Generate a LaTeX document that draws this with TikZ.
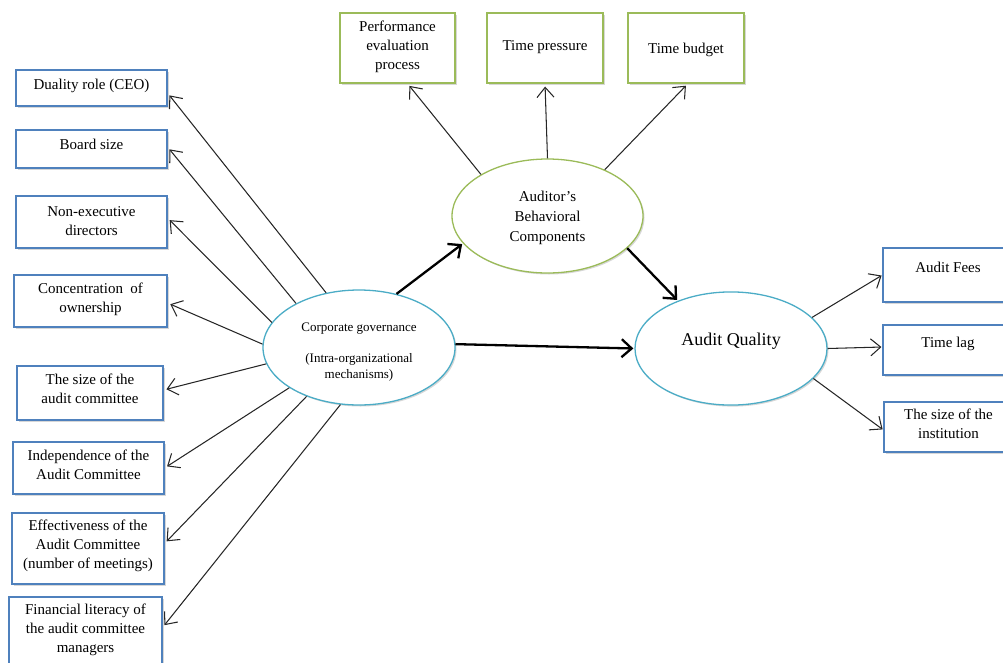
\documentclass[tikz,border=0pt]{standalone}
\usepackage{fontspec}
\setmainfont{Liberation Serif}
\usetikzlibrary{arrows.meta,shapes.geometric,shadows}
\definecolor{boxblue}{RGB}{79,129,189}
\definecolor{boxgreen}{RGB}{155,187,89}
\definecolor{ellblue}{RGB}{75,172,198}
\newcommand{\bxt}[4]{\parbox[c][#2][t]{#1}{\centering\vspace*{#3}\strut #4\par}}
\tikzset{
  shad/.style={drop shadow={shadow xshift=1.5pt,shadow yshift=-1.5pt,opacity=0.35,fill=black!45}},
  bbox/.style={draw=boxblue,line width=1.1pt,fill=white,inner sep=0pt,shad,font=\fontsize{15}{19}\selectfont},
  gbox/.style={bbox,draw=boxgreen},
  ell/.style={ellipse,draw=ellblue,line width=1.3pt,fill=white,inner sep=0pt,shad},
  gell/.style={ell,draw=boxgreen},
  thinarr/.style={draw=black!85,line width=1.05pt,-{Straight Barb[length=10pt,width=17pt,line width=1.05pt]},shorten >=3pt},
  thickarr/.style={draw=black,line width=2.3pt,-{Straight Barb[length=10pt,width=18pt,line width=2.3pt]},shorten >=1pt},
}
\begin{document}
\begin{tikzpicture}[x=1pt,y=-1pt]
\useasboundingbox (0,0) rectangle (1003,662);
% left boxes
\node[bbox] (duality) at (91.5,88) {\bxt{151pt}{36pt}{6.2pt}{Duality role (CEO)}};
\node[bbox] (board) at (91.5,149) {\bxt{151pt}{38pt}{6.2pt}{Board size}};
\node[bbox] (nonexec) at (91.5,222) {\bxt{151pt}{52pt}{7.2pt}{Non-executive\\directors}};
\node[bbox] (conc) at (90.5,301) {\bxt{153pt}{52pt}{5.2pt}{Concentration\ \ of\\ownership}};
\node[bbox] (sizeac) at (90,393) {\bxt{146pt}{54pt}{5.2pt}{The size of the\\audit committee}};
\node[bbox] (indep) at (88.5,468) {\bxt{151pt}{52pt}{5.2pt}{Independence of the\\Audit Committee}};
\node[bbox] (effect) at (88,548.5) {\bxt{152pt}{71pt}{4.2pt}{Effectiveness of the\\Audit Committee\\(number of meetings)}};
\node[bbox] (fin) at (85.5,634.5) {\bxt{153pt}{75pt}{4.2pt}{Financial literacy of\\the audit committee\\managers}};
% top boxes
\node[gbox] (perf) at (397.5,48) {\bxt{115pt}{70pt}{5.2pt}{Performance\\evaluation\\process}};
\node[gbox] (tp) at (545,48) {\bxt{116pt}{70pt}{24.2pt}{Time pressure}};
\node[gbox] (tb) at (686,48) {\bxt{116pt}{70pt}{27.2pt}{Time budget}};
% right boxes
\node[bbox] (af) at (948,275) {\bxt{130pt}{54pt}{11.2pt}{Audit Fees}};
\node[bbox] (tl) at (948,350) {\bxt{130pt}{50pt}{9.2pt}{Time lag}};
\node[bbox] (si) at (948.5,427) {\bxt{129pt}{50pt}{4.2pt}{The size of the\\institution}};
% ellipses
\node[ell,minimum width=192pt,minimum height=115pt,font=\fontsize{13}{16}\selectfont] (cg) at (359,347.5)
  {\bxt{130pt}{80pt}{13.2pt}{Corporate governance\\[15pt](Intra-organizational\\mechanisms)}};
\node[gell,minimum width=191pt,minimum height=114pt,font=\fontsize{15}{20}\selectfont] (abc) at (547.5,216)
  {\bxt{130pt}{80pt}{11.5pt}{Auditor's\\Behavioral\\Components}};
\node[ell,minimum width=192pt,minimum height=113pt,font=\fontsize{18}{22}\selectfont] (aq) at (731,348.5)
  {\bxt{130pt}{80pt}{21.5pt}{Audit Quality}};
% left arrows
\draw[thinarr] (cg.121) -- ([yshift=-5pt]duality.east);
\draw[thinarr] (cg.145) -- ([yshift=2pt]board.east);
\draw[thinarr] (cg.164) -- ([yshift=4pt]nonexec.east);
\draw[thinarr] (cg.178) -- ([yshift=-2pt]conc.east);
\draw[thinarr] (cg.190) -- ([yshift=3pt]sizeac.east);
\draw[thinarr] (cg.210) -- (indep.east);
\draw[thinarr] (cg.223) -- ([yshift=5pt]effect.east);
\draw[thinarr] (cg.252) -- ([yshift=7pt]fin.east);
% top arrows
\draw[thinarr] (abc.148) -- ([xshift=10pt]perf.south);
\draw[thinarr] (abc.90) -- (tp.south);
\draw[thinarr] (abc.39) -- ([xshift=2pt]tb.south);
% right arrows
\draw[thinarr,shorten >=1pt] (aq.21) -- (af.west);
\draw[thinarr,shorten >=1pt] (aq.0) -- ([yshift=3pt]tl.west);
\draw[thinarr,shorten >=1pt] (aq.340) -- ([yshift=-3pt]si.west);
% thick arrows
\draw[thickarr] (cg.55) -- (abc.198);
\draw[thickarr] (abc.338) -- (aq.138);
\draw[thickarr] (cg.2) -- (aq.180);
\end{tikzpicture}
\end{document}
